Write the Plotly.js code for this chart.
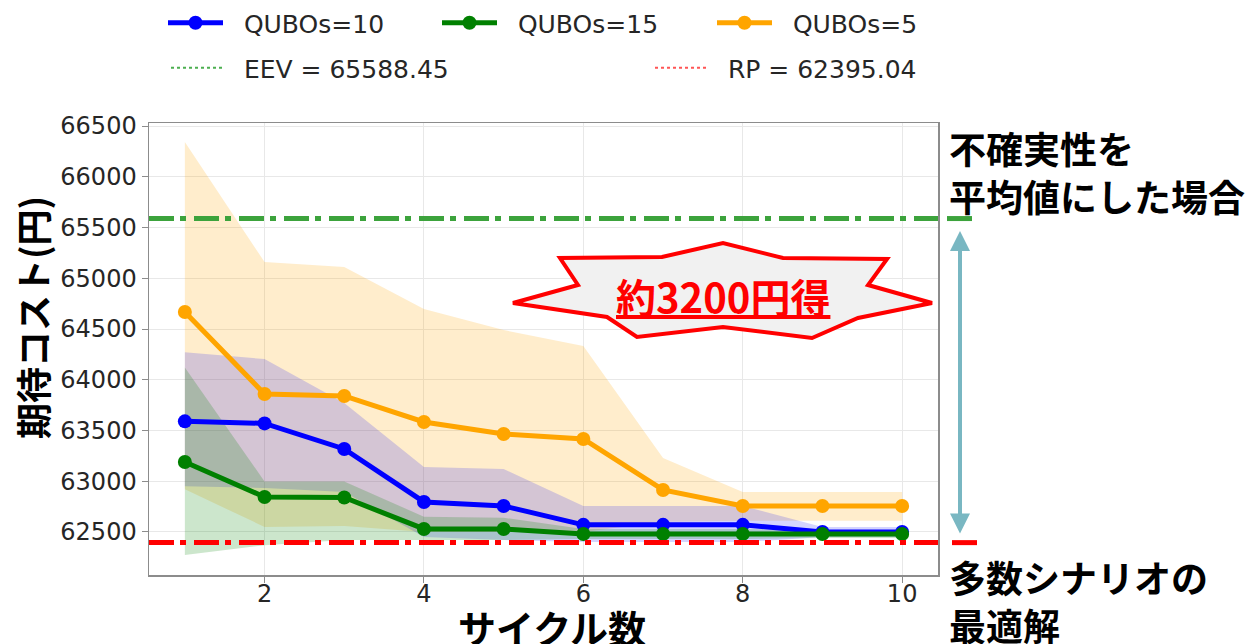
<!DOCTYPE html>
<html><head><meta charset="utf-8">
<script src="https://cdn.plot.ly/plotly-3.0.1.min.js"></script>
<style>body{margin:0;background:#fff}#chart{width:1246px;height:644px}</style>
</head><body><div id="chart"></div><script>
// ---- data ----
const cycles = [1, 2, 3, 4, 5, 6, 7, 8, 9, 10];
const q10Mean  = [63590, 63570, 63318, 62796, 62756, 62570, 62570, 62570, 62500, 62500];
const q10Upper = [64270, 64204, 63770, 63140, 63120, 62756, 62756, 62756, 62550, 62550];
const q10Lower = [62950, 62933, 62894, 62450, 62420, 62400, 62400, 62400, 62450, 62450];
const q15Mean  = [63190, 62845, 62840, 62530, 62530, 62480, 62480, 62480, 62480, 62480];
const q15Upper = [64120, 62998, 62998, 62650, 62640, 62530, 62530, 62530, 62520, 62520];
const q15Lower = [62273, 62370, 62420, 62420, 62420, 62430, 62430, 62430, 62440, 62440];
const q5Mean   = [64667, 63860, 63840, 63584, 63466, 63416, 62914, 62756, 62756, 62756];
const q5Upper  = [66342, 65160, 65110, 64697, 64490, 64333, 63229, 62894, 62894, 62894];
const q5Lower  = [62920, 62550, 62560, 62500, 62500, 62500, 62600, 62610, 62610, 62610];
const EEV = 65588.45;
const RP = 62395.04;
const xTickVals = [2, 4, 6, 8, 10];
const seriesNames = ['QUBOs=10', 'QUBOs=15', 'QUBOs=5'];
const eevLabel = 'EEV = 65588.45';
const rpLabel = 'RP = 62395.04';
const gainLabel = '約3200円得';
const topNote = '不確実性を<br>平均値にした場合';
const bottomNote = '多数シナリオの<br>最適解';
const xTitle = 'サイクル数';
const yTitle = '期待コスト(円)';

// ---- geometry helpers ----
const W = 1246, H = 644, ML = 149, MR = 308, MT = 123, MB = 69;
const PW = W - ML - MR, PH = H - MT - MB;
const px = v => (v - ML) / PW;
const py = v => (H - MB - v) / PH;
const yRange = [62076, 66530];
const yPaper = v => (v - yRange[0]) / (yRange[1] - yRange[0]);

const JP = 'Noto Sans CJK JP';
const pad = '\u00a0\u00a0';
const band = (upper, lower, color) => ({
  x: cycles.concat(cycles.slice().reverse()),
  y: upper.concat(lower.slice().reverse()),
  fill: 'toself', fillcolor: color, mode: 'lines', line: {width: 0},
  hoverinfo: 'skip', showlegend: false
});
const series = (y, name, color, lg) => ({
  x: cycles, y: y, name: pad + name, mode: 'lines+markers',
  line: {color: color, width: 5}, marker: {color: color, size: 14},
  legend: lg
});

const traces = [
  band(q5Upper, q5Lower, 'rgba(255,165,0,0.2)'),
  band(q10Upper, q10Lower, 'rgba(0,0,255,0.17)'),
  band(q15Upper, q15Lower, 'rgba(0,128,0,0.2)'),
  series(q10Mean, seriesNames[0], '#0000ff', 'legend'),
  series(q15Mean, seriesNames[1], '#008000', 'legend2'),
  series(q5Mean, seriesNames[2], '#ffa500', 'legend3'),
  {x: [null], y: [null], name: pad + eevLabel, mode: 'lines', legend: 'legend4',
   line: {color: '#4caf50', width: 2, dash: 'dot'}},
  {x: [null], y: [null], name: pad + rpLabel, mode: 'lines', legend: 'legend5',
   line: {color: '#ff5555', width: 2, dash: 'dot'}}
];

const dashdot = '25px,6px,6px,8px';
const starPts = [[513,303],[578,285],[560,258],[662,257],[723,243],[783,258],[887,259],[868,285],
  [932,303],[858,318],[812,338],[723,327],[637,337],[607,317]];
const starPath = 'M' + starPts.map(p => px(p[0]).toFixed(4) + ',' + py(p[1]).toFixed(4)).join('L') + 'Z';

const legendFont = {family: 'DejaVu Sans', size: 25, color: '#262626'};
const mkLegend = (xPix, yPix, iw) => ({orientation: 'h', xref: 'container', yref: 'container',
  x: xPix / W, xanchor: 'left', y: 1 - yPix / H, yanchor: 'middle',
  font: legendFont, itemwidth: iw, bgcolor: 'rgba(0,0,0,0)', borderwidth: 0});
const layout = {
  width: W, height: H,
  margin: {l: ML, r: MR, t: MT, b: MB},
  paper_bgcolor: '#fff', plot_bgcolor: '#fff',
  showlegend: true,
  xaxis: {range: [0.55, 10.45], tickvals: xTickVals, showgrid: true, gridcolor: '#e8e8e8', gridwidth: 1,
    zeroline: false, showline: true, mirror: true, linecolor: '#8c8c8c', linewidth: 1.5,
    ticks: 'outside', ticklen: 6, tickcolor: '#8c8c8c', automargin: false, ticklabelstandoff: -9,
    tickfont: {family: 'DejaVu Sans', size: 24, color: '#262626'}},
  yaxis: {range: yRange, dtick: 500, tick0: 62500, showgrid: true, gridcolor: '#e8e8e8', gridwidth: 1,
    zeroline: false, showline: true, mirror: true, linecolor: '#8c8c8c', linewidth: 1.5,
    ticks: 'outside', ticklen: 6, tickcolor: '#8c8c8c', automargin: false,
    tickfont: {family: 'DejaVu Sans', size: 24, color: '#262626'}, tickformat: 'd'},
  legend: mkLegend(163, 23, 55),
  legend2: mkLegend(437, 23, 55),
  legend3: mkLegend(712, 23, 55),
  legend4: mkLegend(166, 68, 52),
  legend5: mkLegend(650, 68, 52),
  shapes: [
    {type: 'line', xref: 'paper', yref: 'y', x0: 0, x1: 1, y0: EEV, y1: EEV,
     line: {color: '#3ca33c', width: 5, dash: dashdot}},
    {type: 'line', xref: 'paper', yref: 'y', x0: 0, x1: 1, y0: RP, y1: RP,
     line: {color: '#ff0000', width: 5, dash: dashdot}},
    {type: 'line', xref: 'paper', yref: 'paper', x0: px(947), x1: px(972), y0: yPaper(EEV), y1: yPaper(EEV),
     line: {color: '#3ca33c', width: 5}},
    {type: 'line', xref: 'paper', yref: 'paper', x0: px(952), x1: px(977), y0: yPaper(RP), y1: yPaper(RP),
     line: {color: '#ff0000', width: 5}},
    {type: 'path', xref: 'paper', yref: 'paper', path: starPath, fillcolor: '#f1f1f1',
     line: {color: '#ff0000', width: 4}, layer: 'above'}
  ],
  annotations: [
    {xref: 'paper', yref: 'paper', x: px(723), y: py(296), text: '<b><u>' + gainLabel + '</u></b>',
     showarrow: false, font: {family: JP, size: 40, color: '#ff0000'}, xanchor: 'center', yanchor: 'middle'},
    {xref: 'paper', yref: 'paper', x: px(947), y: py(172), text: '<b>' + topNote + '</b>', align: 'left',
     showarrow: false, font: {family: JP, size: 37, color: '#000'}, xanchor: 'left', yanchor: 'middle'},
    {xref: 'paper', yref: 'paper', x: px(947), y: py(601), text: '<b>' + bottomNote + '</b>', align: 'left',
     showarrow: false, font: {family: JP, size: 37, color: '#000'}, xanchor: 'left', yanchor: 'middle'},
    {xref: 'paper', yref: 'paper', x: px(552), y: py(626), text: '<b>' + xTitle + '</b>',
     showarrow: false, font: {family: JP, size: 38, color: '#000'}, xanchor: 'center', yanchor: 'middle'},
    {xref: 'paper', yref: 'paper', x: px(32), y: py(318), text: '<b>' + yTitle + '</b>', textangle: -90,
     showarrow: false, font: {family: JP, size: 36, color: '#000'}, xanchor: 'center', yanchor: 'middle'},
    {xref: 'paper', yref: 'y', x: px(960), y: RP, axref: 'pixel', ax: 0, ayref: 'y', ay: EEV,
     text: '', showarrow: true, arrowside: 'end+start', arrowhead: 2, startarrowhead: 2,
     arrowsize: 1, startarrowsize: 1, arrowwidth: 4, arrowcolor: '#79b7c2', standoff: 9, startstandoff: 11}
  ]
};
Plotly.newPlot('chart', traces, layout, {staticPlot: true});
</script></body></html>
